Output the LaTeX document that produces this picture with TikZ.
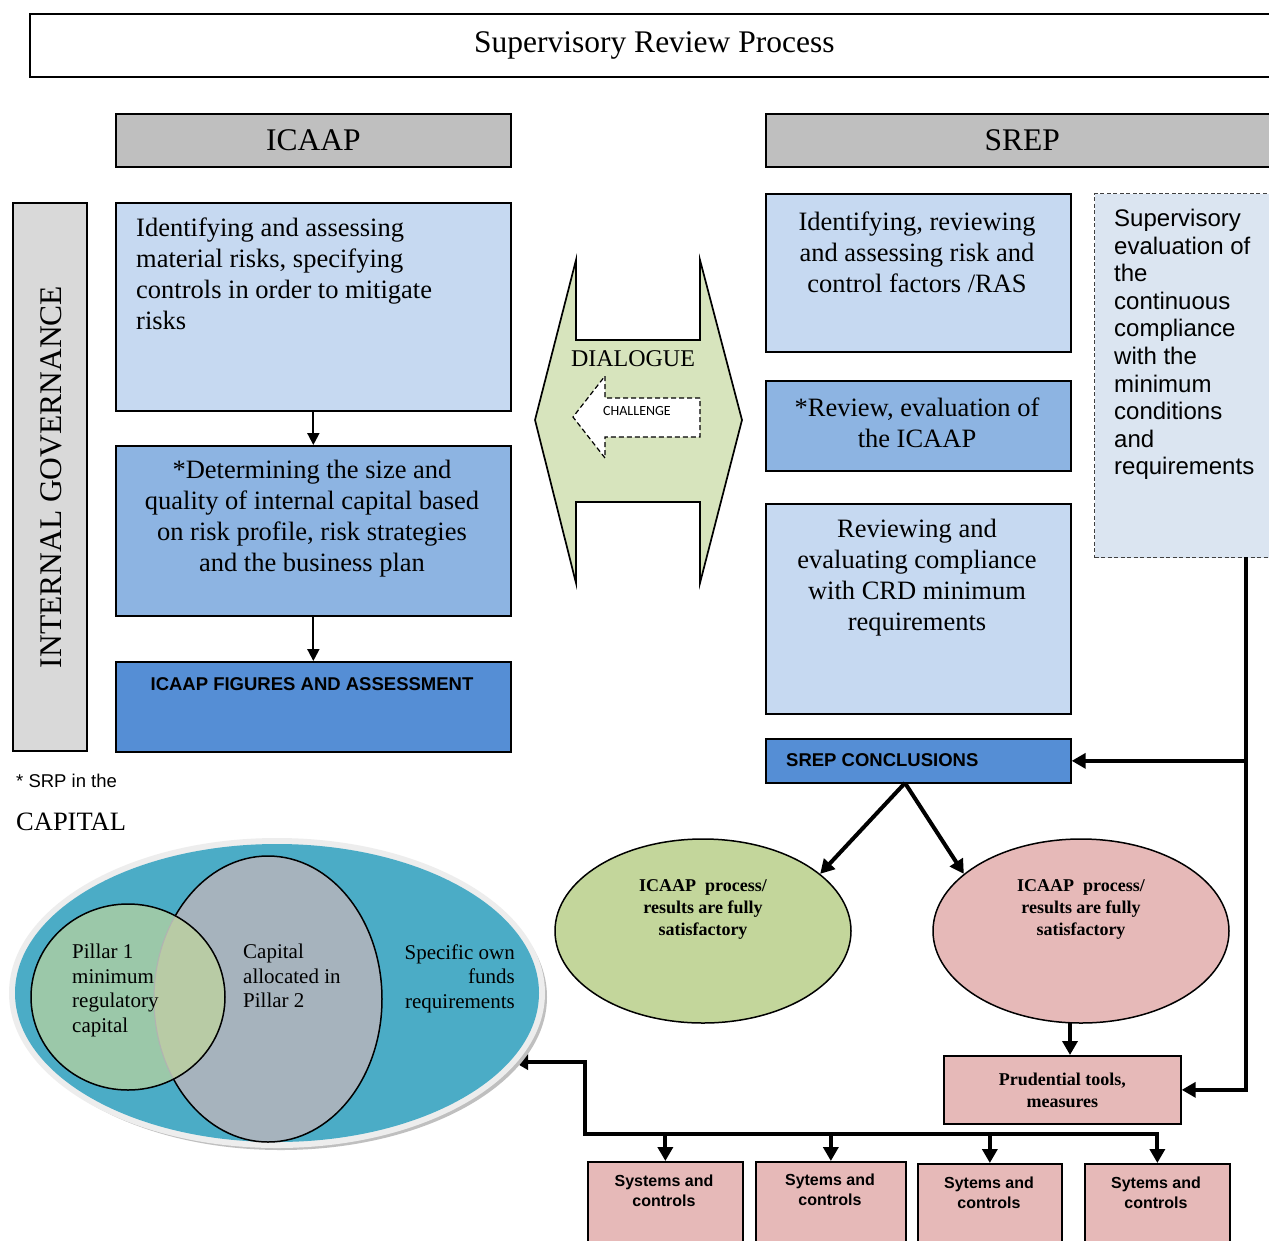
\documentclass[tikz,border=0pt]{standalone}
\usepackage{fontspec}
\setmainfont{Liberation Serif}
\setsansfont{Liberation Sans}
\newfontfamily\challengefont{Carlito}
\usetikzlibrary{calc,arrows.meta,shapes.geometric}

\definecolor{hdrgray}{HTML}{BFBFBF}
\definecolor{govgray}{HTML}{D9D9D9}
\definecolor{paleblue}{HTML}{C6D9F1}
\definecolor{midblue}{HTML}{8DB4E2}
\definecolor{deepblue}{HTML}{558ED5}
\definecolor{dlggreen}{HTML}{D7E4BD}
\definecolor{supblue}{HTML}{DBE5F1}
\definecolor{okgreen}{HTML}{C3D69B}
\definecolor{badpink}{HTML}{E6B9B8}
\definecolor{capblue}{HTML}{4BACC6}
\definecolor{pillargreen}{HTML}{9BC8A9}
\definecolor{pillargray}{HTML}{A6B3BD}
\definecolor{overlapgreen}{HTML}{B8CBA5}

\tikzset{
  box/.style={draw=black, line width=1.7pt, inner sep=0pt, anchor=north west},
  bigserif/.style={font=\fontsize{31.5}{36}\selectfont, inner sep=0pt},
  serif/.style={font=\fontsize{26.5}{31}\selectfont, inner sep=0pt},
  vennserif/.style={font=\fontsize{21}{24.5}\selectfont, inner sep=0pt},
  boldserif/.style={font=\bfseries\fontsize{18}{22}\selectfont, inner sep=0pt},
  sanstext/.style={font=\sffamily\fontsize{24}{27.6}\selectfont, inner sep=0pt},
  boldsans/.style={font=\sffamily\bfseries\fontsize{18.5}{22}\selectfont, inner sep=0pt},
  smallbold/.style={font=\sffamily\bfseries\fontsize{16}{19.5}\selectfont, inner sep=0pt},
  thinarrow/.style={line width=2pt, -{Triangle[length=12pt,width=12pt]}},
  fatarrow/.style={line width=4pt, line join=miter, -{Triangle[length=14pt,width=15pt]}},
  fatline/.style={line width=4pt, line cap=rect}
}

\begin{document}
\begin{tikzpicture}[x=1pt,y=-1pt]
		%%%%% START %%%%%
		\useasboundingbox[fill=white] (0,0) rectangle (1269,1240);

		\node[box, fill=white, minimum width=1249pt, minimum height=63pt, bigserif] (title) at (29,13) {Supervisory Review Process};
		\node[box, fill=hdrgray, minimum width=395pt, minimum height=53pt, bigserif] (icaaphead) at (115,113) {ICAAP};
		\node[box, fill=hdrgray, minimum width=513pt, minimum height=53pt, bigserif] (srephead) at (765,113) {SREP};

		\node[box, fill=govgray, minimum width=74pt, minimum height=548pt] (govbox) at (12,202) {};
		\node[bigserif, rotate=90] (govtext) at (51,477) {INTERNAL GOVERNANCE};

		% ICAAP side
		\node[box, fill=paleblue, minimum width=395pt, minimum height=208pt] (icaapA) at (115,202) {};
		\node[serif, align=left, anchor=north west] (icaapAtext) at (136,218) {Identifying and assessing\\material risks, specifying\\controls in order to mitigate\\risks};
		\node[box, fill=midblue, minimum width=395pt, minimum height=170pt] (icaapB) at (115,445) {};
		\node[serif, align=center] (icaapBtext) at (312,519) {*Determining the size and\\quality of internal capital based\\on risk profile, risk strategies\\and the business plan};
		\node[box, fill=deepblue, minimum width=395pt, minimum height=90pt] (icaapC) at (115,661) {};
		\node[boldsans] (icaapCtext) at (312,684) {ICAAP FIGURES AND ASSESSMENT};
		\draw[thinarrow] (icaapA.south) -- (icaapB.north);
		\draw[thinarrow] (icaapB.south) -- (icaapC.north);

		% dialogue
		\draw[fill=dlggreen, line width=1.7pt, line join=miter] (576,260) -- (576,340) -- (700,340) -- (700,260) -- (742,420) -- (700,583) -- (700,502) -- (576,502) -- (576,583) -- (535,420) -- cycle;
		\node[font=\fontsize{24}{28}\selectfont, inner sep=0pt] (dialogue) at (633,359) {DIALOGUE};
		\draw[fill=white, dash pattern=on 5pt off 3pt, line width=1.2pt] (700,398) -- (605,398) -- (605,376) -- (573,417) -- (605,458) -- (605,437) -- (700,437) -- cycle;
		\node[font=\challengefont\fontsize{14}{16}\selectfont, inner sep=0pt] (challenge) at (637,411) {CHALLENGE};

		% SREP side
		\node[box, fill=paleblue, minimum width=305pt, minimum height=158pt] (srepA) at (765,193) {};
		\node[serif, align=center] (srepAtext) at (917,252) {Identifying, reviewing\\and assessing risk and\\control factors /RAS};
		\node[box, fill=midblue, minimum width=305pt, minimum height=90pt] (srepB) at (765,380) {};
		\node[serif, align=center] (srepBtext) at (917,423) {*Review, evaluation of\\the ICAAP};
		\node[box, fill=paleblue, minimum width=305pt, minimum height=210pt] (srepC) at (765,503) {};
		\node[serif, align=center] (srepCtext) at (917,578) {Reviewing and\\evaluating compliance\\with CRD minimum\\requirements};
		\node[box, fill=deepblue, minimum width=305pt, minimum height=44pt] (concl) at (765,738) {};
		\node[boldsans, anchor=west] (concltext) at (786,760) {SREP CONCLUSIONS};

		\node[box, draw=black!75, dash pattern=on 4pt off 2.5pt, line width=1.1pt, fill=supblue, minimum width=190pt, minimum height=364pt] (supbox) at (1094,193) {};
		\node[sanstext, align=left, anchor=north west] (suptext) at (1114,209) {Supervisory\\evaluation of\\the\\continuous\\compliance\\with the\\minimum\\conditions\\and\\requirements};

		% outcomes
		\node[draw, line width=1.5pt, ellipse, fill=okgreen, minimum width=296pt, minimum height=184pt, inner sep=0pt] (okell) at (703,931) {};
		\node[boldserif, align=center] (oktext) at (703,909) {ICAAP\ \ process/\\results are fully\\satisfactory};
		\node[draw, line width=1.5pt, ellipse, fill=badpink, minimum width=296pt, minimum height=184pt, inner sep=0pt] (badell) at (1081,931) {};
		\node[boldserif, align=center] (badtext) at (1081,909) {ICAAP\ \ process/\\results are fully\\satisfactory};

		\coordinate (split) at (905,783);
		\draw[fatarrow] (split) -- (okell.26);
		\draw[fatarrow] (split) -- (badell.154);

		\node[box, fill=badpink, minimum width=237pt, minimum height=68pt, boldserif, align=center] (prud) at (943,1055) {Prudential tools,\\measures};
		\coordinate (drop) at (1070,1023);
		\draw[fatarrow] (drop) -- (drop |- prud.north);

		\coordinate (rtop) at (1246,557);
		\draw[fatarrow] (rtop) |- (prud.east);
		\draw[fatarrow] (rtop |- concl.east) -- (concl.east);

		% systems and controls
		\node[box, fill=badpink, minimum width=155pt, minimum height=90pt] (sys1) at (587,1161) {};
		\node[box, fill=badpink, minimum width=150pt, minimum height=90pt] (sys2) at (755,1161) {};
		\node[box, fill=badpink, minimum width=144pt, minimum height=90pt] (sys3) at (917,1163) {};
		\node[box, fill=badpink, minimum width=145pt, minimum height=90pt] (sys4) at (1084,1163) {};
		\node[smallbold, align=center] (sys1text) at (664,1191) {Systems and\\controls};
		\node[smallbold, align=center] (sys2text) at (830,1190) {Sytems and\\controls};
		\node[smallbold, align=center] (sys3text) at (989,1193) {Sytems and\\controls};
		\node[smallbold, align=center] (sys4text) at (1156,1193) {Sytems and\\controls};

		\coordinate (bus) at (585,1134);
		\coordinate (vtip) at (514,1062);
		\draw[fatarrow] (bus) |- (vtip);
		\draw[fatline] (bus) -- (bus -| sys4.north);
		\draw[fatarrow] (sys1.north |- bus) -- (sys1.north);
		\draw[fatarrow] (sys2.north |- bus) -- (sys2.north);
		\draw[fatarrow] (sys3.north |- bus) -- (sys3.north);
		\draw[fatarrow] (sys4.north |- bus) -- (sys4.north);

		% capital
		\node[font=\sffamily\fontsize{18.5}{22}\selectfont, anchor=west, inner sep=0pt] (srpnote) at (16,781) {* SRP in the};
		\node[serif, anchor=west] (captitle) at (16,822) {CAPITAL};

		\fill[black!25] (281,997) ellipse [x radius=266pt, y radius=153pt];
		\fill[black!7] (277,993) ellipse [x radius=268pt, y radius=155pt];
		\fill[capblue] (277,993) ellipse [x radius=262pt, y radius=149pt];
		\draw[fill=pillargray, line width=1.5pt] (268,999) ellipse [x radius=114pt, y radius=143pt];
		\fill[pillargreen] (128,997) ellipse [x radius=97pt, y radius=93pt];
		\begin{scope}
			\clip (128,997) ellipse [x radius=97pt, y radius=93pt];
			\fill[overlapgreen] (268,999) ellipse [x radius=114pt, y radius=143pt];
			\draw[line width=1pt, black!30] (268,999) ellipse [x radius=114pt, y radius=143pt];
		\end{scope}
		\draw[line width=1.5pt] (128,997) ellipse [x radius=97pt, y radius=93pt];

		\node[vennserif, align=left, anchor=north west] (pillarone) at (72,944) {Pillar 1\\minimum\\regulatory\\capital};
		\node[vennserif, align=left, anchor=north west] (pillartwo) at (243,944) {Capital\\allocated in\\Pillar 2};
		\node[vennserif, align=right, anchor=north east] (ownfunds) at (515,944) {Specific own\\funds\\requirements};
		%%%%% END %%%%%
\end{tikzpicture}
\end{document}
